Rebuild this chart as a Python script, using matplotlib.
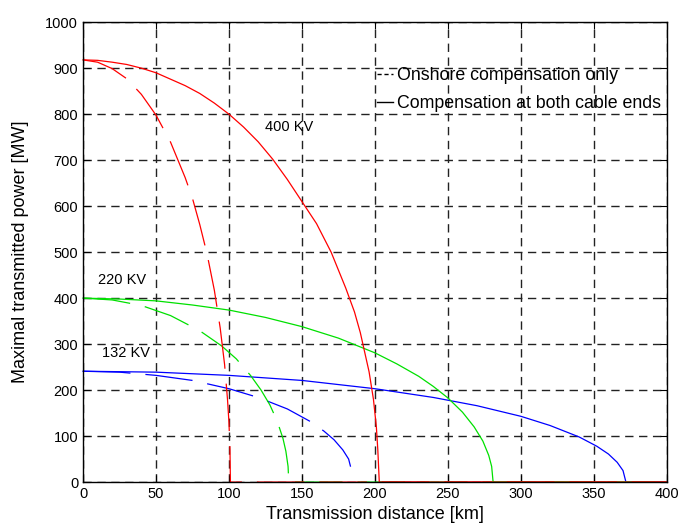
import matplotlib
matplotlib.use("Agg")
import matplotlib.pyplot as plt

plt.rcParams['font.family'] = ['Liberation Sans', 'DejaVu Sans']

# --- data (km, MW) ---
# compensation at both cable ends (solid)
x400_both = [0, 10, 20, 30, 40, 50, 60, 70, 80, 90, 100, 110, 120, 130, 140, 150,
             160, 170, 180, 186, 190, 196, 199, 201, 202, 203, 400]
p400_both = [918, 917, 913, 908, 900, 890, 876, 862, 845, 824, 800, 772, 740, 702, 658, 610,
             562, 500, 422, 370, 325, 240, 180, 120, 70, 0, 0]
x220_both = [0, 25, 50, 75, 100, 125, 150, 175, 200, 215, 230, 240, 250, 260, 268,
             274, 278, 280, 281, 400]
p220_both = [400, 398, 394, 385, 374, 358, 338, 313, 281, 257, 230, 208, 183, 152, 120,
             89, 58, 34, 0, 0]
x132_both = [0, 50, 100, 150, 200, 240, 270, 300, 320, 340, 352, 360, 366, 370, 372, 400]
p132_both = [241, 239, 232, 221, 203, 184, 166, 143, 123, 98, 78, 61, 43, 25, 0, 0]

# onshore compensation only (dashed)
x400_on = [0, 10, 20, 30, 40, 50, 60, 70, 75, 80, 85, 90, 94, 97, 99, 100, 100.7, 101, 400]
p400_on = [918, 913, 899, 877, 843, 798, 739, 662, 617, 560, 496, 417, 335, 256, 180, 130, 70, 0, 0]
x220_on = [0, 20, 40, 60, 80, 95, 105, 115, 122, 128, 133, 137, 139, 140.5, 141, 400]
p220_on = [400, 396, 384, 362, 329, 296, 268, 231, 200, 168, 133, 95, 67, 34, 0, 0]
x132_on = [0, 25, 50, 75, 100, 120, 140, 155, 165, 172, 178, 182, 184]
p132_on = [241, 239, 232, 221, 203, 184, 159, 133, 111, 92, 70, 50, 25]

x_ticks = list(range(0, 401, 50))
y_ticks = list(range(0, 1001, 100))

long_dash = (0, (38, 12))

fig = plt.figure(figsize=(6.86, 5.28), dpi=100)
ax = fig.add_axes([0.121, 0.087, 0.851, 0.871])

lw = 0.9
ax.plot(x132_on, p132_on, color='#0000ff', lw=lw, linestyle=long_dash, clip_on=False)
ax.plot(x132_both, p132_both, color='#0000ff', lw=lw, clip_on=False)
ax.plot(x220_on, p220_on, color='#00e000', lw=lw, linestyle=long_dash, clip_on=False)
ax.plot(x220_both, p220_both, color='#00e000', lw=lw, clip_on=False)
ax.plot(x400_on, p400_on, color='#ff0000', lw=lw, linestyle=long_dash, clip_on=False)
ax.plot(x400_both, p400_both, color='#ff0000', lw=lw, clip_on=False)

ax.set_xlim(0, 400)
ax.set_ylim(0, 1000)
ax.set_xticks(x_ticks)
ax.set_yticks(y_ticks)
ax.tick_params(direction='in', top=True, right=True, length=5, labelsize=10.5)
ax.grid(True, color='#222222', linestyle=(0, (6, 4)), linewidth=1)
ax.set_axisbelow(True)
for s in ax.spines.values():
    s.set_linewidth(1)

ax.set_xlabel('Transmission distance [km]', fontsize=13, labelpad=4)
ax.set_ylabel('Maximal transmitted power [MW]', fontsize=13, labelpad=12)

ax.text(125, 772, '400 KV', fontsize=10.5, va='center')
ax.text(10, 439, '220 KV', fontsize=10.5, va='center')
ax.text(13, 280, '132 KV', fontsize=10.5, va='center')

# legend with black sample lines
h1, = ax.plot([], [], color='black', lw=1, linestyle=(0, (3, 2)))
h2, = ax.plot([], [], color='black', lw=1)
ax.legend([h1, h2], ['Onshore compensation only', 'Compensation at both cable ends'],
          loc='upper left', bbox_to_anchor=(0.503, 0.902), frameon=False,
          fontsize=12.8, handlelength=0.9, handletextpad=0.25,
          labelspacing=0.6, borderpad=0, borderaxespad=0)

fig.savefig('out.png', dpi=100)
